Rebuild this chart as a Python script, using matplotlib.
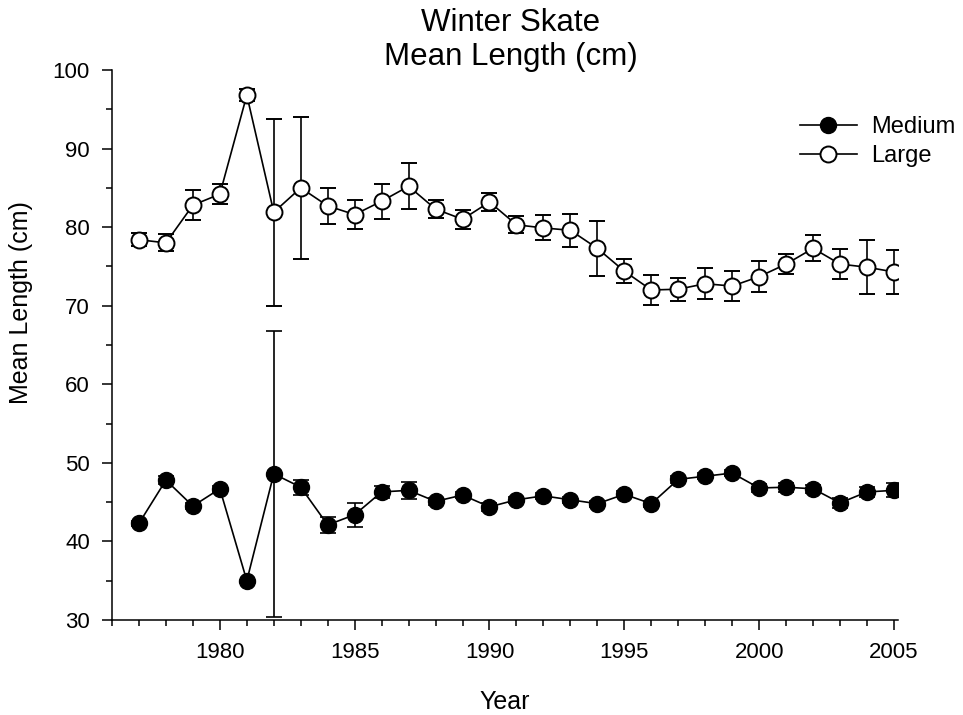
import numpy as np
import matplotlib.pyplot as plt
from matplotlib.ticker import MultipleLocator

plt.rcParams['font.family'] = ['Liberation Sans', 'DejaVu Sans']

years = list(range(1977, 2006))

# Medium size class: mean length and error
medium = [42.3, 47.8, 44.5, 46.7, 35.0, 48.6, 46.9, 42.1, 43.4, 46.3,
          46.5, 45.1, 45.9, 44.4, 45.3, 45.8, 45.3, 44.8, 46.0, 44.8,
          47.9, 48.3, 48.7, 46.8, 46.9, 46.7, 44.9, 46.3, 46.5]
medium_err = [0.3, 0.5, 0.4, 0.4, 0.0, 18.2, 0.95, 1.05, 1.5, 0.8,
              1.1, 0.4, 0.4, 0.5, 0.4, 0.4, 0.4, 0.4, 0.4, 0.4,
              0.4, 0.4, 0.4, 0.5, 0.6, 0.5, 0.6, 0.6, 0.9]

# Large size class
large = [78.4, 78.0, 82.8, 84.2, 96.8, 81.9, 85.0, 82.7, 81.6, 83.3,
         85.2, 82.3, 81.0, 83.2, 80.3, 79.9, 79.6, 77.3, 74.4, 72.0,
         72.1, 72.8, 72.5, 73.7, 75.3, 77.3, 75.3, 74.9, 74.3]
large_err = [0.8, 1.1, 1.9, 1.25, 0.75, 11.9, 9.0, 2.3, 1.8, 2.2,
             2.9, 1.15, 1.2, 1.15, 1.1, 1.6, 2.1, 3.5, 1.5, 1.85,
             1.45, 2.0, 1.95, 2.0, 1.3, 1.65, 1.9, 3.45, 2.8]

fig = plt.figure(figsize=(9.63, 7.15), dpi=100)
ax = fig.add_axes([112/963, 1 - 620/715, 786/963, 550/715])

ax.errorbar(years, medium, yerr=medium_err, fmt='-o', color='black',
            mfc='black', mec='black', ms=11.5, lw=1.2, elinewidth=1.2,
            capsize=6, capthick=1.2, label='Medium', zorder=3)
ax.errorbar(years, large, yerr=large_err, fmt='-o', color='black',
            mfc='white', mec='black', mew=1.4, ms=11.5, lw=1.2, elinewidth=1.2,
            capsize=6, capthick=1.2, label='Large', zorder=3)

ax.set_xlim(1976, 2005.15)
ax.set_ylim(30, 100)
ax.xaxis.set_major_locator(MultipleLocator(5))
ax.xaxis.set_minor_locator(MultipleLocator(1))
ax.yaxis.set_major_locator(MultipleLocator(10))
ax.yaxis.set_minor_locator(MultipleLocator(5))
ax.set_xticks([1980, 1985, 1990, 1995, 2000, 2005])
ax.tick_params(which='major', direction='out', length=7, width=1.1,
               labelsize=16, pad=9)
ax.tick_params(which='minor', direction='out', length=4.5, width=1.1)
for s in ['top', 'right']:
    ax.spines[s].set_visible(False)
for s in ['left', 'bottom']:
    ax.spines[s].set_linewidth(1.1)

ax.set_xlabel('Year', fontsize=18)
ax.set_ylabel('Mean Length (cm)', fontsize=18)
ax.xaxis.set_label_coords(0.5, -0.128)
ax.yaxis.set_label_coords(-0.10, 0.578)

fig.text(511/963, 1 - 23/715, 'Winter Skate', fontsize=22.5,
         ha='center', va='center')
fig.text(511/963, 1 - 57/715, 'Mean Length (cm)', fontsize=22.5,
         ha='center', va='center')

handles, labels = ax.get_legend_handles_labels()
handles = [h[0] for h in handles]
ax.legend(handles, labels, loc='upper left', bbox_to_anchor=(800/963, 1 - 116/715),
          bbox_transform=fig.transFigure, frameon=False, fontsize=17,
          handlelength=2.4, handletextpad=0.6, labelspacing=0.3,
          borderpad=0, borderaxespad=0)

fig.savefig('out.png', dpi=100)
